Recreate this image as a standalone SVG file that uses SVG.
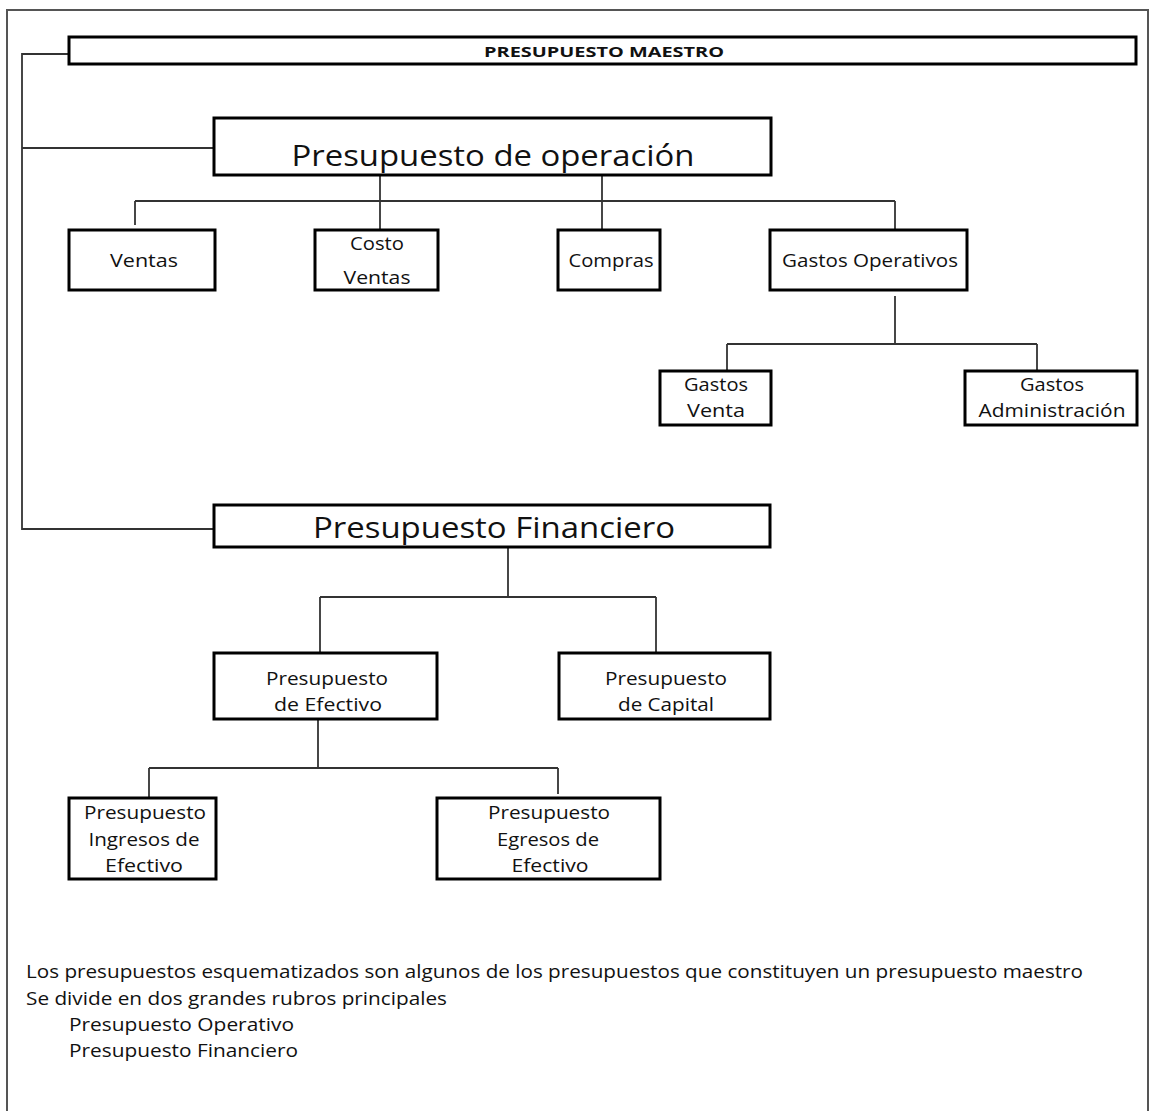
<svg xmlns="http://www.w3.org/2000/svg" width="1151" height="1111" viewBox="0 0 1151 1111">
<style>
.box{fill:#fff;stroke:#000;stroke-width:3}
.t{font-family:"Open Sans","Noto Sans","DejaVu Sans",sans-serif;font-size:18px;fill:#111;text-anchor:middle}
.big{font-size:30px}
.b{font-weight:bold;font-size:15px}
.c{fill:none;stroke:#333;stroke-width:1.8}
.note{font-family:"Open Sans","Noto Sans",sans-serif;font-size:18px;fill:#111}
</style>
<rect width="1151" height="1111" fill="#fff"/>
<path d="M7,1111 V10 H1148 V1111" fill="none" stroke="#555" stroke-width="2"/>
<g id="connectors" class="c">
<path class="c" d="M69,54 H22 V529 H214"/>
<path class="c" d="M22,148 H214"/>
<path class="c" d="M380,175 V230 M602,175 V230 M135,201 H895 M135,201 V225 M895,201 V229"/>
<path class="c" d="M895,296 V344 M727,344 H1037 M727,344 V371 M1037,344 V371"/>
<path class="c" d="M508,548 V597 M320,597 H656 M320,597 V653 M656,597 V653"/>
<path class="c" d="M318,719 V768 M149,768 H558 M149,768 V797 M558,768 V794"/>
</g>
<g id="n-maestro"><rect class="box" x="69" y="37" width="1067" height="27"/><text class="t b" x="604" y="57" textLength="240" lengthAdjust="spacingAndGlyphs">PRESUPUESTO MAESTRO</text></g>
<g id="n-operacion"><rect class="box" x="214" y="118" width="557" height="57"/><text class="t big" x="493" y="166" textLength="403" lengthAdjust="spacingAndGlyphs">Presupuesto de operación</text></g>
<g id="n-ventas"><rect class="box" x="69" y="230" width="146" height="60"/><text class="t" x="144" y="267" textLength="68" lengthAdjust="spacingAndGlyphs">Ventas</text></g>
<g id="n-costo"><rect class="box" x="315" y="230" width="123" height="60"/><text class="t" x="377" y="250" textLength="54" lengthAdjust="spacingAndGlyphs">Costo</text><text class="t" x="377" y="284" textLength="67" lengthAdjust="spacingAndGlyphs">Ventas</text></g>
<g id="n-compras"><rect class="box" x="558" y="230" width="102" height="60"/><text class="t" x="611" y="267" textLength="85" lengthAdjust="spacingAndGlyphs">Compras</text></g>
<g id="n-gastosop"><rect class="box" x="770" y="230" width="197" height="60"/><text class="t" x="870" y="267" textLength="176" lengthAdjust="spacingAndGlyphs">Gastos Operativos</text></g>
<g id="n-gventa"><rect class="box" x="660" y="371" width="111" height="54"/><text class="t" x="716" y="391" textLength="64" lengthAdjust="spacingAndGlyphs">Gastos</text><text class="t" x="716" y="417" textLength="58" lengthAdjust="spacingAndGlyphs">Venta</text></g>
<g id="n-gadmin"><rect class="box" x="965" y="371" width="172" height="54"/><text class="t" x="1052" y="391" textLength="64" lengthAdjust="spacingAndGlyphs">Gastos</text><text class="t" x="1052" y="417" textLength="147" lengthAdjust="spacingAndGlyphs">Administración</text></g>
<g id="n-financiero"><rect class="box" x="214" y="505" width="556" height="42"/><text class="t big" x="494" y="538" textLength="362" lengthAdjust="spacingAndGlyphs">Presupuesto Financiero</text></g>
<g id="n-efectivo"><rect class="box" x="214" y="653" width="223" height="66"/><text class="t" x="327" y="685" textLength="122" lengthAdjust="spacingAndGlyphs">Presupuesto</text><text class="t" x="328" y="711" textLength="108" lengthAdjust="spacingAndGlyphs">de Efectivo</text></g>
<g id="n-capital"><rect class="box" x="559" y="653" width="211" height="66"/><text class="t" x="666" y="685" textLength="122" lengthAdjust="spacingAndGlyphs">Presupuesto</text><text class="t" x="666" y="711" textLength="96" lengthAdjust="spacingAndGlyphs">de Capital</text></g>
<g id="n-ingresos"><rect class="box" x="69" y="798" width="147" height="81"/><text class="t" x="145" y="819" textLength="122" lengthAdjust="spacingAndGlyphs">Presupuesto</text><text class="t" x="144" y="846" textLength="111" lengthAdjust="spacingAndGlyphs">Ingresos de</text><text class="t" x="144" y="872" textLength="78" lengthAdjust="spacingAndGlyphs">Efectivo</text></g>
<g id="n-egresos"><rect class="box" x="437" y="798" width="223" height="81"/><text class="t" x="549" y="819" textLength="122" lengthAdjust="spacingAndGlyphs">Presupuesto</text><text class="t" x="548" y="846" textLength="102" lengthAdjust="spacingAndGlyphs">Egresos de</text><text class="t" x="550" y="872" textLength="77" lengthAdjust="spacingAndGlyphs">Efectivo</text></g>
<g id="notes">
<text class="note" x="26" y="978" textLength="1057" lengthAdjust="spacingAndGlyphs">Los presupuestos esquematizados son algunos de los presupuestos que constituyen un presupuesto maestro</text>
<text class="note" x="26" y="1005" textLength="421" lengthAdjust="spacingAndGlyphs">Se divide en dos grandes rubros principales</text>
<text class="note" x="69" y="1031" textLength="225" lengthAdjust="spacingAndGlyphs">Presupuesto Operativo</text>
<text class="note" x="69" y="1057" textLength="229" lengthAdjust="spacingAndGlyphs">Presupuesto Financiero</text>
</g>
</svg>
